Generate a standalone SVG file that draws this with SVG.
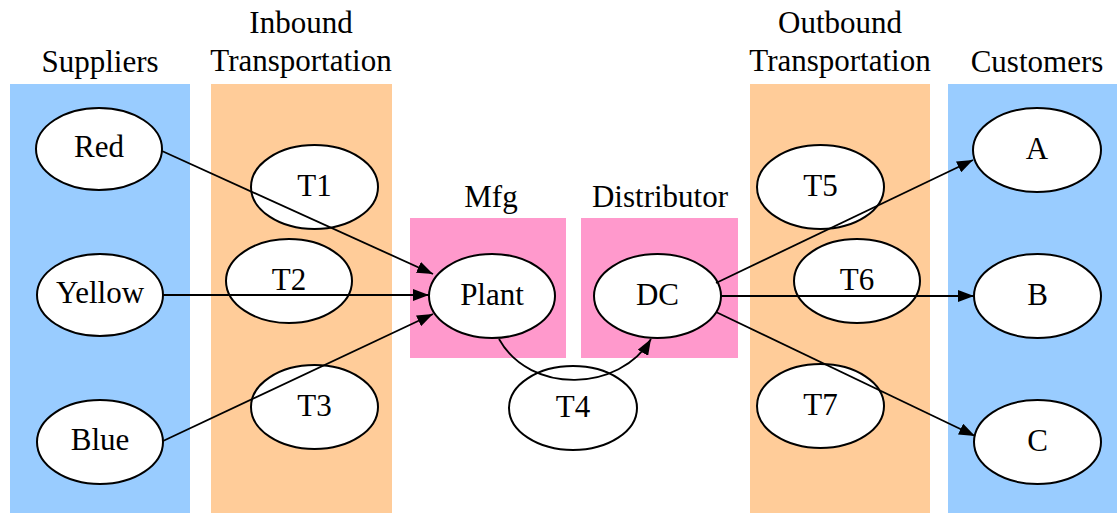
<svg xmlns="http://www.w3.org/2000/svg" width="1117" height="514" viewBox="0 0 1117 514">
<style>
text{font-family:'Liberation Serif','Times New Roman',serif;font-size:31px;fill:#000;text-anchor:middle}
.n ellipse{fill:#fff;stroke:#000;stroke-width:2}
.e{fill:none;stroke:#000;stroke-width:1.8}
.blue{fill:#99CCFF}.orange{fill:#FFCC99}.pink{fill:#FF99CC}
</style>
<defs>
<marker id="ah" viewBox="0 0 16 12" refX="16" refY="6" markerWidth="16" markerHeight="12" markerUnits="userSpaceOnUse" orient="auto">
<path d="M0,0 L16,6 L0,12 Z" fill="#000"/>
</marker>
</defs>
<g id="clusters">
<rect class="blue" x="10" y="84" width="180" height="429"/>
<rect class="orange" x="211" y="84" width="181" height="429"/>
<rect class="pink" x="410" y="218" width="156" height="140"/>
<rect class="pink" x="581" y="218" width="157" height="140"/>
<rect class="orange" x="750" y="84" width="180" height="429"/>
<rect class="blue" x="948" y="84" width="169" height="429"/>
<text x="100" y="72">Suppliers</text>
<text x="301" y="33">Inbound</text>
<text x="301" y="71">Transportation</text>
<text x="491" y="207">Mfg</text>
<text x="660" y="207">Distributor</text>
<text x="840" y="33">Outbound</text>
<text x="840" y="71">Transportation</text>
<text x="1037" y="72">Customers</text>
</g>
<g id="Red" class="n"><ellipse cx="99" cy="149" rx="63" ry="41"/><text x="99" y="157">Red</text></g>
<g id="Yellow" class="n"><ellipse cx="100" cy="295" rx="63" ry="41"/><text x="100" y="303">Yellow</text></g>
<g id="Blue" class="n"><ellipse cx="100" cy="442" rx="63" ry="42"/><text x="100" y="450">Blue</text></g>
<g id="T1" class="n"><ellipse cx="314.5" cy="187" rx="63.5" ry="42"/><text x="314.5" y="196">T1</text></g>
<g id="T2" class="n"><ellipse cx="289" cy="281" rx="63" ry="42"/><text x="289" y="290">T2</text></g>
<g id="T3" class="n"><ellipse cx="314.5" cy="407" rx="63.5" ry="42"/><text x="314.5" y="416">T3</text></g>
<g id="Plant" class="n"><ellipse cx="492" cy="296" rx="63" ry="42"/><text x="492" y="305">Plant</text></g>
<g id="DC" class="n"><ellipse cx="657.5" cy="296" rx="63.5" ry="42"/><text x="657.5" y="305">DC</text></g>
<g id="T4" class="n"><ellipse cx="573" cy="408" rx="64" ry="42"/><text x="573" y="417">T4</text></g>
<g id="T5" class="n"><ellipse cx="820.5" cy="187" rx="63.5" ry="42"/><text x="820.5" y="196">T5</text></g>
<g id="T6" class="n"><ellipse cx="857" cy="281" rx="63" ry="42"/><text x="857" y="290">T6</text></g>
<g id="T7" class="n"><ellipse cx="820.5" cy="406" rx="63.5" ry="42"/><text x="820.5" y="415">T7</text></g>
<g id="A" class="n"><ellipse cx="1037" cy="150" rx="64" ry="42"/><text x="1037" y="159">A</text></g>
<g id="B" class="n"><ellipse cx="1037.5" cy="296" rx="63.5" ry="42"/><text x="1037.5" y="305">B</text></g>
<g id="C" class="n"><ellipse cx="1037.5" cy="442" rx="63.5" ry="42"/><text x="1037.5" y="451">C</text></g>
<g id="connectors">
<path class="e" d="M162,151 L433,274" marker-end="url(#ah)"/>
<path class="e" d="M163,295 L429,295" marker-end="url(#ah)"/>
<path class="e" d="M163,441 L433,314" marker-end="url(#ah)"/>
<path class="e" d="M499,339 C530,395 620,392 651,339" marker-end="url(#ah)"/>
<path class="e" d="M716,283 L973,160" marker-end="url(#ah)"/>
<path class="e" d="M721,296 L974,296" marker-end="url(#ah)"/>
<path class="e" d="M716,312 L975,436" marker-end="url(#ah)"/>
</g>
</svg>
